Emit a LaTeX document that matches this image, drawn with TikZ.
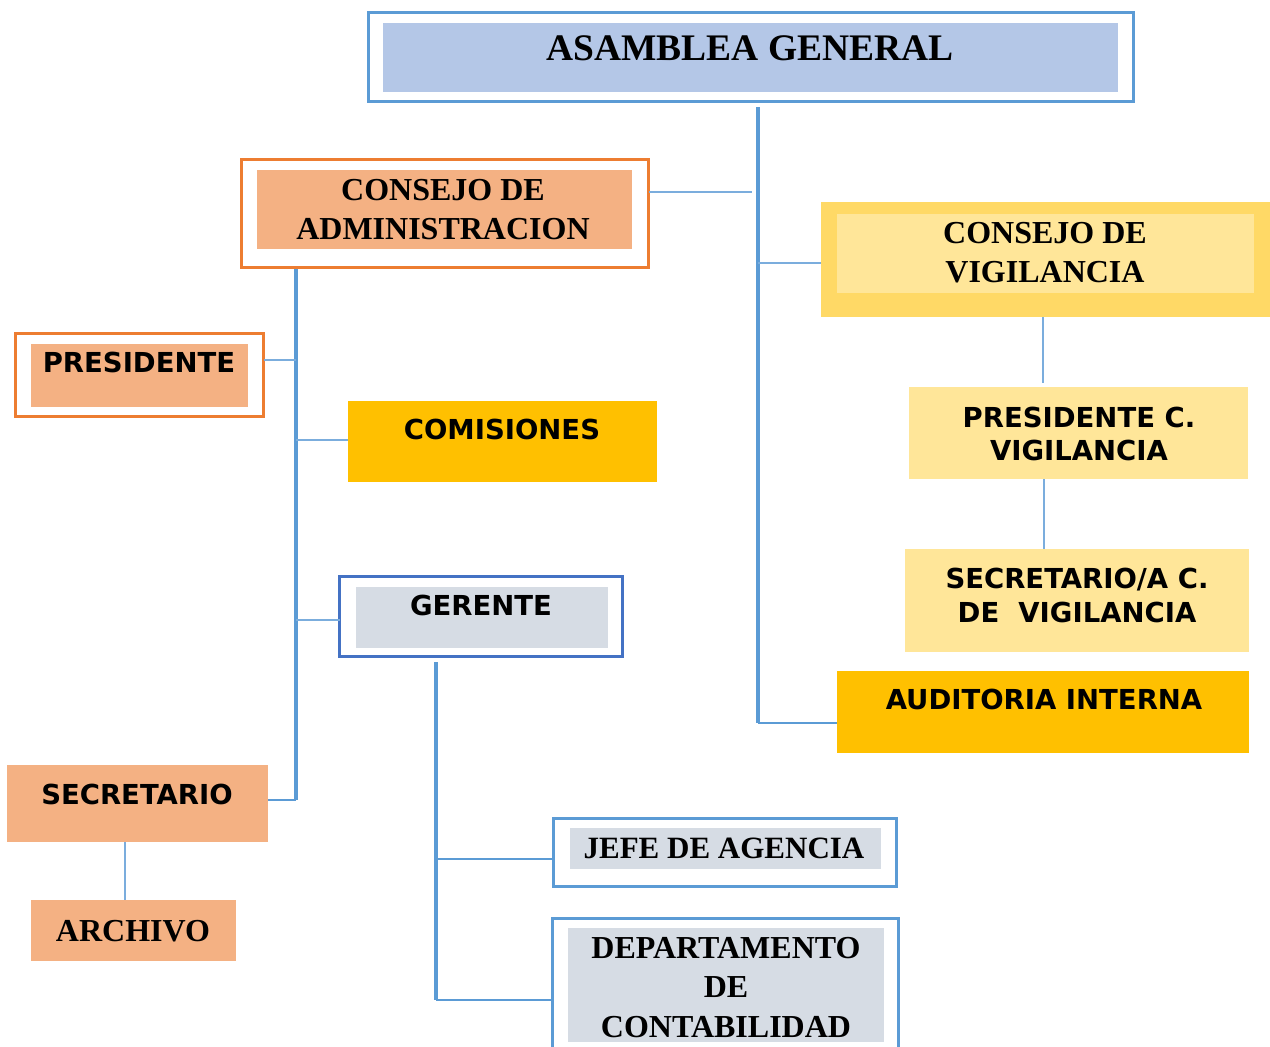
\documentclass[tikz,border=0pt]{standalone}
\usepackage{fontspec}
\setmainfont{Liberation Serif}
\newfontfamily\sansb{DejaVu Sans}
\definecolor{lineblue}{HTML}{5B9BD5}
\definecolor{thinblue}{HTML}{7BADDD}
\definecolor{frameblue}{HTML}{5B9BD5}
\definecolor{darkframe}{HTML}{4472C4}
\definecolor{orangeframe}{HTML}{ED7D31}
\definecolor{peach}{HTML}{F4B183}
\definecolor{paleblue}{HTML}{B4C7E7}
\definecolor{goldout}{HTML}{FFD966}
\definecolor{goldin}{HTML}{FFE699}
\definecolor{amber}{HTML}{FFC000}
\definecolor{greyfill}{HTML}{D6DCE4}
\newcommand{\mlines}[1]{\begin{tabular}[t]{@{}c@{}}#1\end{tabular}}
\begin{document}
\begin{tikzpicture}[x=1pt,y=-1pt,
  panel/.style={inner sep=0pt, outer sep=0pt, anchor=north west},
  frame/.style={panel, draw, line width=3pt, fill=white},
  serif/.style={font=\bfseries\fontsize{32}{39.5}\selectfont, anchor=base, inner sep=0pt},
  sans/.style={font=\sansb\bfseries\fontsize{27.5}{34}\selectfont, anchor=base, inner sep=0pt},
  trunk/.style={draw=lineblue, line width=3.6pt},
  branch/.style={draw=lineblue, line width=2.4pt},
  thinline/.style={draw=thinblue, line width=1.6pt}
]
\clip (0,0) rectangle (1270,1047);
\fill[white] (0,0) rectangle (1270,1047);

% ---------- connector points ----------
\coordinate (mt0) at (758,107);
\coordinate (mt1) at (758,723);
\coordinate (a1) at (752,192);
\coordinate (v1) at (758,263);
\coordinate (lt0) at (296,269);
\coordinate (lt1) at (296,800);
\coordinate (p1) at (296,360);
\coordinate (c1) at (296,440);
\coordinate (g1) at (296,620);
\coordinate (gt0) at (436,662);
\coordinate (gt1) at (436,1000);
\coordinate (gj) at (436,859);
\coordinate (vx) at (1043,0);
\coordinate (vx2) at (1044,0);
\coordinate (ax) at (125,0);

% ---------- boxes ----------
\node[frame, draw=frameblue, minimum width=765pt, minimum height=89pt] (asmF) at (368.5,12.5) {};
\node[panel, fill=paleblue, minimum width=735pt, minimum height=69pt] (asmP) at (383,23) {};

\node[frame, draw=orangeframe, minimum width=407pt, minimum height=108pt] (admF) at (241.5,159.5) {};
\node[panel, fill=peach, minimum width=375pt, minimum height=79pt] (admP) at (257,170) {};

\node[panel, fill=goldout, minimum width=449pt, minimum height=115pt] (vigO) at (821,202) {};
\node[panel, fill=goldin, minimum width=417pt, minimum height=79pt] (vigP) at (837,214) {};

\node[frame, draw=orangeframe, minimum width=248pt, minimum height=83pt] (presF) at (15.5,333.5) {};
\node[panel, fill=peach, minimum width=217pt, minimum height=63pt] (presP) at (31,344) {};

\node[panel, fill=amber, minimum width=309pt, minimum height=81pt] (comis) at (348,401) {};

\node[frame, draw=darkframe, minimum width=283pt, minimum height=80pt] (gerF) at (339.5,576.5) {};
\node[panel, fill=greyfill, minimum width=252pt, minimum height=61pt] (gerP) at (356,587) {};

\node[panel, fill=peach, minimum width=261pt, minimum height=77pt] (sec) at (7,765) {};
\node[panel, fill=peach, minimum width=205pt, minimum height=61pt] (arch) at (31,900) {};

\node[panel, fill=goldin, minimum width=339pt, minimum height=92pt] (pcv) at (909,387) {};
\node[panel, fill=goldin, minimum width=344pt, minimum height=103pt] (scv) at (905,549) {};
\node[panel, fill=amber, minimum width=412pt, minimum height=82pt] (aud) at (837,671) {};

\node[frame, draw=frameblue, minimum width=343pt, minimum height=68pt] (jefeF) at (553.5,818.5) {};
\node[panel, fill=greyfill, minimum width=311pt, minimum height=41pt] (jefeP) at (570,828) {};

\node[frame, draw=frameblue, minimum width=346pt, minimum height=142pt] (deptF) at (552.5,918.5) {};
\node[panel, fill=greyfill, minimum width=316pt, minimum height=114pt] (deptP) at (568,928) {};

% ---------- connector lines ----------
\draw[trunk] (mt0) -- (mt1);
\draw[branch] (mt1) -- (mt1 -| aud.west);
\draw[thinline] (a1 -| admF.east) -- (a1);
\draw[thinline] (v1) -- (v1 -| vigO.west);
\draw[trunk] (lt0) -- (lt1);
\draw[branch] (lt1) -- (lt1 -| sec.east);
\draw[thinline] (p1) -- (p1 -| presF.east);
\draw[thinline] (c1) -- (c1 -| comis.west);
\draw[thinline] (g1) -- (g1 -| gerF.west);
\draw[trunk] (gt0) -- (gt1);
\draw[branch] (gt1) -- (gt1 -| deptF.west);
\draw[branch] (gj) -- (gj -| jefeF.west);
\draw[thinline] (vigO.south -| vx) -- ([yshift=4pt]pcv.north -| vx);
\draw[thinline] (pcv.south -| vx2) -- (scv.north -| vx2);
\draw[thinline] (sec.south -| ax) -- (arch.north -| ax);

% ---------- texts ----------
\node[serif, font=\bfseries\fontsize{37.5}{44}\selectfont] (asmT) at (750,60) {ASAMBLEA GENERAL};
\node[serif] (admT) at (443,200) {\mlines{CONSEJO DE\\ADMINISTRACION}};
\node[serif] (vigT) at (1045,243) {\mlines{CONSEJO DE\\VIGILANCIA}};
\node[sans] (presT) at (139,372) {PRESIDENTE};
\node[sans] (comT) at (502,439) {COMISIONES};
\node[sans] (gerT) at (481,615) {GERENTE};
\node[sans] (secT) at (137,804) {SECRETARIO};
\node[serif] (archT) at (133,941) {ARCHIVO};
\node[sans, font=\sansb\bfseries\fontsize{27.5}{33}\selectfont] (pcvT) at (1079,427) {\mlines{PRESIDENTE C.\\VIGILANCIA}};
\node[sans] (scvT) at (1077,588) {\mlines{SECRETARIO/A C.\\DE~ VIGILANCIA}};
\node[sans] (audT) at (1044,709) {AUDITORIA INTERNA};
\node[serif, font=\bfseries\fontsize{31}{39}\selectfont] (jefeT) at (724,858) {JEFE DE AGENCIA};
\node[serif] (deptT) at (726,958) {\mlines{DEPARTAMENTO\\DE\\CONTABILIDAD}};
\end{tikzpicture}
\end{document}
